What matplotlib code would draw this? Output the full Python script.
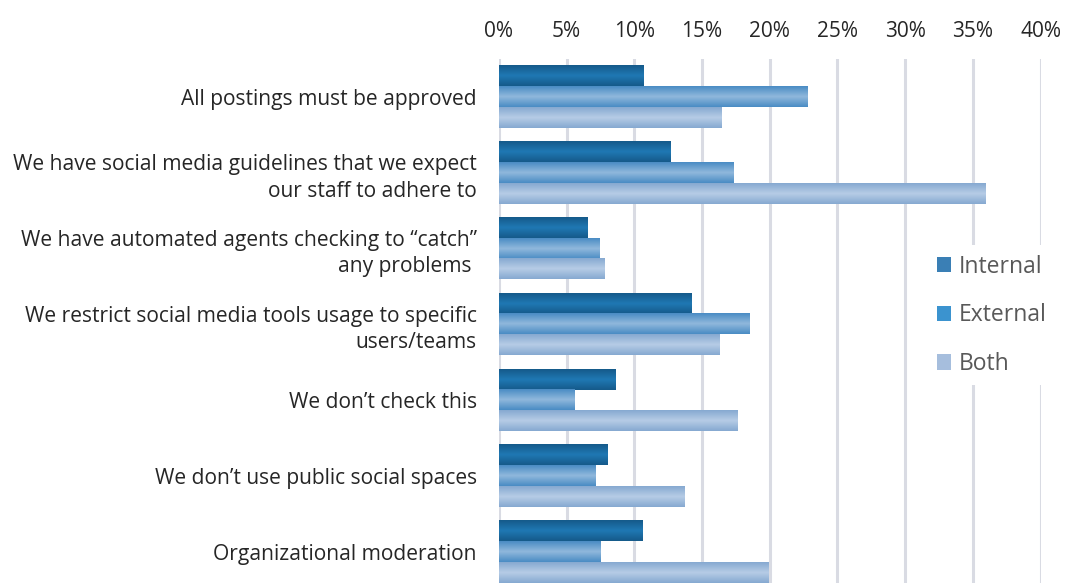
import numpy as np
import matplotlib
matplotlib.use("Agg")
import matplotlib.pyplot as plt
from matplotlib.colors import LinearSegmentedColormap
from matplotlib.patches import Patch
from matplotlib.ticker import PercentFormatter

categories = [
    "All postings must be approved",
    "We have social media guidelines that we expect\nour staff to adhere to",
    "We have automated agents checking to \u201ccatch\u201d\nany problems ",
    "We restrict social media tools usage to specific\nusers/teams",
    "We don\u2019t check this",
    "We don\u2019t use public social spaces",
    "Organizational moderation",
]
series_names = ["Internal", "External", "Both"]
internal = [10.7, 12.7, 6.5, 14.2, 8.6, 8.0, 10.6]
external = [22.8, 17.3, 7.4, 18.5, 5.6, 7.1, 7.5]
both = [16.4, 35.9, 7.8, 16.3, 17.6, 13.7, 19.9]
xticks = [0, 5, 10, 15, 20, 25, 30, 35, 40]

# edge / centre shades for the banded bar fill, plus a flat legend swatch
shades = {
    "Internal": ("#155a8a", "#1f78b4", "#3a7fb5"),
    "External": ("#4a8cc4", "#90b8dc", "#3b93cf"),
    "Both": ("#86a9d1", "#b6cce6", "#a6bedd"),
}

plt.rcParams["font.family"] = ["Open Sans", "DejaVu Sans"]

fig = plt.figure(figsize=(10.65, 5.83), dpi=100)
ax = fig.add_axes([0.4685, -0.011, 0.5085, 0.91])

bar_h = 0.273
y = np.arange(len(categories))
for k, (name, vals) in enumerate(zip(series_names, [internal, external, both])):
    edge, mid, _ = shades[name]
    cmap = LinearSegmentedColormap.from_list(name, [edge, mid, edge])
    grad = np.linspace(0, 1, 64).reshape(-1, 1)
    for yi, v in zip(y, vals):
        yc = yi + (k - 1) * bar_h
        ax.imshow(grad, cmap=cmap, aspect="auto", interpolation="bilinear",
                  extent=(0, v, yc + bar_h / 2, yc - bar_h / 2), zorder=3)

ax.set_xlim(0, 40)
ax.set_ylim(len(categories) - 0.5, -0.5)
ax.set_xticks(xticks)
ax.xaxis.set_major_formatter(PercentFormatter(decimals=0))
ax.xaxis.tick_top()
ax.tick_params(axis="x", length=0, pad=12.5, labelsize=15, colors="#262626")
ax.set_yticks(y)
ax.set_yticklabels(categories, fontsize=15.1, color="#262626", linespacing=1.35)
ax.tick_params(axis="y", length=0, pad=16)
ax.grid(axis="x", color="#d9dbe3", linewidth=2.2, zorder=0)
ax.set_axisbelow(True)
for s in ax.spines.values():
    s.set_visible(False)

handles = [Patch(facecolor=shades[n][2], edgecolor="none") for n in series_names]
leg = ax.legend(handles, series_names, loc="upper left",
                bbox_to_anchor=(0.770, 0.670), frameon=True, fontsize=16.5,
                handlelength=0.65, handleheight=0.65, handletextpad=0.3,
                labelspacing=1.08, borderpad=0.4, framealpha=1)
leg.get_frame().set_edgecolor("none")
for t in leg.get_texts():
    t.set_color("#595959")

fig.savefig("out.png", dpi=100)
